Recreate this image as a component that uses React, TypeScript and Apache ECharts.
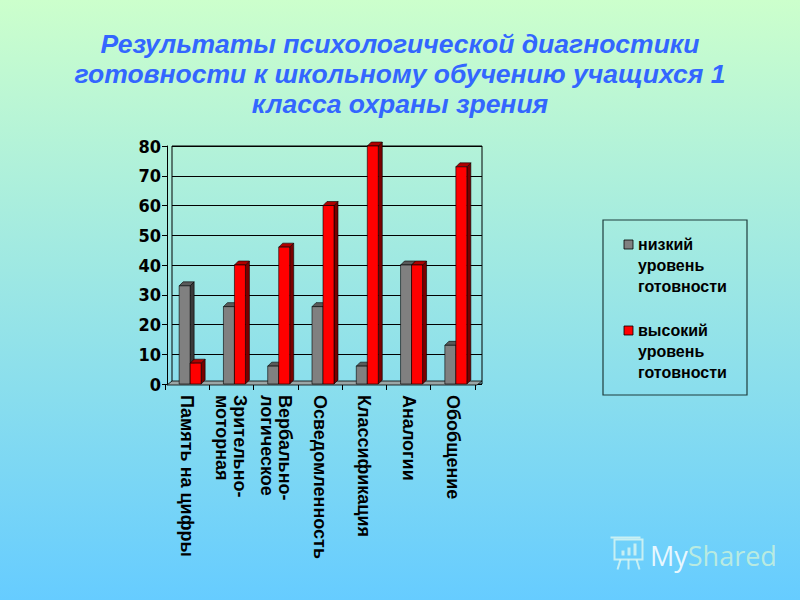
import React, { useEffect, useRef } from "react";
import * as echarts from "echarts";

const titleLines = [
  "Результаты психологической диагностики",
  "готовности к школьному обучению учащихся 1",
  "класса охраны зрения",
];
const categories = [
  "Память на цифры",
  "Зрительно-\nмоторная",
  "Вербально-\nлогическое",
  "Осведомленность",
  "Классификация",
  "Аналогии",
  "Обобщение",
];
const lowLevel = [33, 26, 6, 26, 6, 40, 13];
const highLevel = [7, 40, 46, 60, 80, 40, 73];
const seriesNames = ["низкий уровень готовности", "высокий уровень готовности"];
const legendTexts = ["низкий\nуровень\nготовности", "высокий\nуровень\nготовности"];
const yMin = 0;
const yMax = 80;
const yInterval = 10;

const GRID = { left: 172, right: 318, top: 146, bottom: 216 };
const FRONT_SHIFT = 7;
const BAR_W = 11;
const DEPTH = 4;

const make3D = (offset: number, front: string, side: string, top: string) =>
  (_params: any, api: any) => {
    const idx = api.value(0);
    const v = api.value(1);
    const base = api.coord([idx, 0]);
    const tp = api.coord([idx, v]);
    const x0 = base[0] + offset;
    const y0 = base[1];
    const y1 = tp[1];
    const w = BAR_W;
    const d = DEPTH;
    const stroke = { stroke: "#000", lineWidth: 0.6 };
    return {
      type: "group",
      children: [
        {
          type: "polygon",
          shape: { points: [[x0 + w, y0], [x0 + w + d, y0 - d], [x0 + w + d, y1 - d], [x0 + w, y1]] },
          style: { fill: side, ...stroke },
        },
        {
          type: "polygon",
          shape: { points: [[x0, y1], [x0 + d, y1 - d], [x0 + w + d, y1 - d], [x0 + w, y1]] },
          style: { fill: top, ...stroke },
        },
        {
          type: "rect",
          shape: { x: x0, y: y1, width: w, height: y0 - y1 },
          style: { fill: front, ...stroke },
        },
      ],
    };
  };

export default function App() {
  const ref = useRef<HTMLDivElement>(null);
  useEffect(() => {
    if (!ref.current) return;
    const chart = echarts.init(ref.current, null, { renderer: "svg" });
    const floorY = 600 - GRID.bottom;
    const right = 800 - GRID.right;
    const narrow = "'Liberation Sans Narrow', 'DejaVu Sans Condensed', Arial, sans-serif";
    const sans = "'Liberation Sans', Arial, sans-serif";
    chart.setOption({
      animation: false,
      backgroundColor: {
        type: "linear",
        x: 0, y: 0, x2: 0, y2: 1,
        colorStops: [
          { offset: 0, color: "#ccffcc" },
          { offset: 1, color: "#66ccff" },
        ],
      },
      title: {
        text: titleLines.join("\n"),
        left: "center",
        top: 24,
        textStyle: {
          fontFamily: sans,
          fontSize: 26.5,
          fontWeight: "bold",
          fontStyle: "italic",
          color: "#3366ff",
          lineHeight: 30,
          align: "center",
        },
      },
      grid: [
        {
          left: GRID.left,
          right: GRID.right,
          top: GRID.top,
          bottom: GRID.bottom,
          show: true,
          borderColor: "#000",
          borderWidth: 1,
          backgroundColor: "transparent",
        },
        {
          left: GRID.left - FRONT_SHIFT,
          right: GRID.right + FRONT_SHIFT,
          top: GRID.top,
          bottom: GRID.bottom,
          show: false,
        },
      ],
      xAxis: [
        {
          type: "category",
          gridIndex: 0,
          data: categories,
          axisLine: { show: false },
          axisTick: { show: false },
          axisLabel: { show: false },
        },
        {
          type: "category",
          gridIndex: 1,
          data: categories,
          axisLine: { show: false },
          axisTick: { show: true, length: 6, lineStyle: { color: "#000" } },
          axisLabel: {
            rotate: -90,
            margin: 11,
            interval: 0,
            color: "#000",
            fontFamily: sans,
            fontWeight: "bold",
            fontSize: 18,
            lineHeight: 18,
          },
        },
      ],
      yAxis: [
        {
          type: "value",
          gridIndex: 0,
          min: yMin,
          max: yMax,
          interval: yInterval,
          offset: 5,
          axisLine: { show: true, lineStyle: { color: "#000" } },
          axisTick: { show: true, length: 5, lineStyle: { color: "#000" } },
          axisLabel: {
            color: "#000",
            fontFamily: narrow,
            fontWeight: "bold",
            fontSize: 18,
            margin: 6,
          },
          splitLine: { show: true, lineStyle: { color: "#000", width: 1 } },
        },
        {
          type: "value",
          gridIndex: 1,
          min: yMin,
          max: yMax,
          interval: yInterval,
          show: false,
        },
      ],
      series: [
        {
          name: seriesNames[0],
          type: "custom",
          xAxisIndex: 0,
          yAxisIndex: 0,
          renderItem: make3D(-15, "#808080", "#3a3a3a", "#5a5a5a"),
          encode: { x: 0, y: 1 },
          data: lowLevel.map((v, i) => [i, v]),
          z: 3,
        },
        {
          name: seriesNames[1],
          type: "custom",
          xAxisIndex: 0,
          yAxisIndex: 0,
          renderItem: make3D(-4, "#ff0000", "#7a0000", "#b00000"),
          encode: { x: 0, y: 1 },
          data: highLevel.map((v, i) => [i, v]),
          z: 4,
        },
      ],
      graphic: [
        {
          type: "polygon",
          z: 1,
          shape: {
            points: [
              [GRID.left - 5, floorY + 1],
              [GRID.left, floorY - 3],
              [right, floorY - 3],
              [right - 5, floorY + 1],
            ],
          },
          style: { fill: "#9aa6a6", stroke: "#000", lineWidth: 0.8 },
        },
        {
          type: "rect",
          shape: { x: 603, y: 220, width: 144, height: 175 },
          style: { fill: "transparent", stroke: "#1f3d3d", lineWidth: 1.2 },
        },
        {
          type: "rect",
          shape: { x: 624, y: 240, width: 9, height: 9 },
          style: { fill: "#808080", stroke: "#000", lineWidth: 0.8 },
        },
        {
          type: "text",
          x: 638,
          y: 234,
          style: {
            text: legendTexts[0],
            font: `bold 16px ${sans}`,
            fill: "#000",
            lineHeight: 21,
            verticalAlign: "top",
          },
        },
        {
          type: "rect",
          shape: { x: 624, y: 326, width: 9, height: 9 },
          style: { fill: "#ff0000", stroke: "#000", lineWidth: 0.8 },
        },
        {
          type: "text",
          x: 638,
          y: 320,
          style: {
            text: legendTexts[1],
            font: `bold 16px ${sans}`,
            fill: "#000",
            lineHeight: 21,
            verticalAlign: "top",
          },
        },
        {
          type: "group",
          left: 608,
          top: 535,
          children: [
            { type: "rect", shape: { x: 4, y: 4, width: 28, height: 20 }, style: { fill: "transparent", stroke: "rgba(230,250,240,0.75)", lineWidth: 2 } },
            { type: "line", shape: { x1: 0, y1: 2, x2: 30, y2: 2 }, style: { stroke: "rgba(230,250,240,0.75)", lineWidth: 2 } },
            { type: "rect", shape: { x: 11, y: 15, width: 3, height: 5 }, style: { fill: "rgba(230,250,240,0.75)" } },
            { type: "rect", shape: { x: 17, y: 12, width: 3, height: 8 }, style: { fill: "rgba(230,250,240,0.75)" } },
            { type: "rect", shape: { x: 23, y: 8, width: 3, height: 12 }, style: { fill: "rgba(230,250,240,0.75)" } },
            { type: "line", shape: { x1: 10, y1: 24, x2: 7, y2: 34 }, style: { stroke: "rgba(230,250,240,0.75)", lineWidth: 2 } },
            { type: "line", shape: { x1: 18, y1: 24, x2: 18, y2: 34 }, style: { stroke: "rgba(230,250,240,0.75)", lineWidth: 2 } },
            { type: "line", shape: { x1: 26, y1: 24, x2: 29, y2: 34 }, style: { stroke: "rgba(230,250,240,0.75)", lineWidth: 2 } },
          ],
        },
        {
          type: "text",
          x: 650,
          y: 555,
          style: {
            text: "{a|My}{b|Shared}",
            verticalAlign: "middle",
            rich: {
              a: { fontFamily: "'Open Sans', sans-serif", fontSize: 27, fill: "rgba(245,252,255,0.92)", color: "rgba(245,252,255,0.92)" },
              b: { fontFamily: "'Open Sans', sans-serif", fontSize: 27, fill: "rgba(200,240,220,0.85)", color: "rgba(200,240,220,0.85)" },
            },
          },
        },
      ],
    });
    return () => chart.dispose();
  }, []);
  return (
    <div
      ref={ref}
      style={{ position: "fixed", left: 0, top: 0, width: 800, height: 600 }}
    />
  );
}
